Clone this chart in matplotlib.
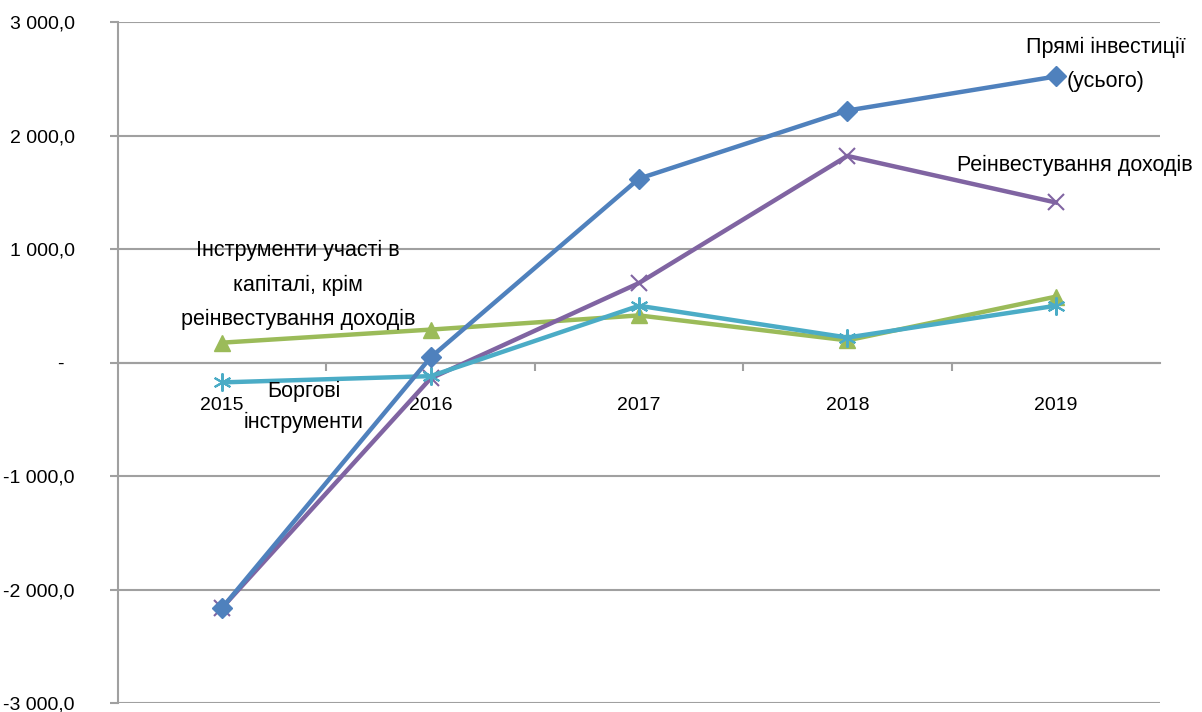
import numpy as np
import matplotlib
matplotlib.use('Agg')
import matplotlib.pyplot as plt
from matplotlib.ticker import FixedLocator

plt.rcParams['font.family'] = ['Liberation Sans', 'DejaVu Sans']

# data (values in millions)
years = ['2015', '2016', '2017', '2018', '2019']
direct_total = [-2160, 45, 1620, 2220, 2520]
reinvest = [-2160, -140, 700, 1820, 1410]
equity = [175, 290, 415, 195, 580]
debt = [-175, -120, 500, 220, 500]

y_ticks = [3000, 2000, 1000, 0, -1000, -2000, -3000]
y_labels = ['3 000,0', '2 000,0', '1 000,0', '-  ', '-1 000,0', '-2 000,0', '-3 000,0']

grid_col = '#a0a0a0'

fig = plt.figure(figsize=(12.02, 7.12), dpi=100)
ax = fig.add_axes([0.0982, 0.0126, 0.8668, 0.9565])

x = np.arange(len(years))

# horizontal gridlines
for t in y_ticks:
    ax.axhline(t, color=grid_col, lw=1.5, zorder=0)

ax.plot(x, direct_total, color='#4f81bd', lw=3.2, marker='D', ms=10, zorder=4)
ax.plot(x, reinvest, color='#8064a2', lw=3.2, marker='x', ms=11, mew=1.5, zorder=3)
ax.plot(x, equity, color='#9bbb59', lw=3.2, marker='^', ms=11, zorder=2)
ax.plot(x, debt, color='#4bacc6', lw=3.2, marker=(6, 2, 0), ms=13, mew=1.5, zorder=3)

ax.set_xlim(-0.5, len(years) - 0.5)
ax.set_ylim(-3000, 3000)

for s in ['top', 'right']:
    ax.spines[s].set_visible(False)
ax.spines['left'].set_color(grid_col)
ax.spines['left'].set_linewidth(1.5)
ax.spines['bottom'].set_position(('data', 0))
ax.spines['bottom'].set_color(grid_col)
ax.spines['bottom'].set_linewidth(1.5)

ax.set_yticks(y_ticks)
ax.set_yticklabels(y_labels)
ax.tick_params(axis='y', length=6, width=1.5, color=grid_col, pad=25, labelsize=14)

ax.set_xticks(x)
ax.set_xticklabels(years)
ax.xaxis.set_minor_locator(FixedLocator(np.arange(0.5, len(years) - 0.5, 1)))
ax.tick_params(axis='x', which='major', length=0, pad=25, labelsize=14)
ax.tick_params(axis='x', which='minor', length=6, width=1.5, color=grid_col)

# series labels
fs = 15.5
ax.text(4.24, 2626, 'Прямі інвестиції\n(усього)', ha='center', va='center',
        fontsize=fs, linespacing=1.83)
ax.text(4.09, 1740, 'Реінвестування доходів', ha='center', va='center', fontsize=fs)
ax.text(0.365, 683, 'Інструменти участі в\nкапіталі, крім\nреінвестування доходів',
        ha='center', va='center', fontsize=fs, linespacing=1.83)
ax.text(0.39, -392, 'Боргові\nінструменти', ha='center', va='center',
        fontsize=fs, linespacing=1.6)

fig.savefig('out.png', dpi=100)
